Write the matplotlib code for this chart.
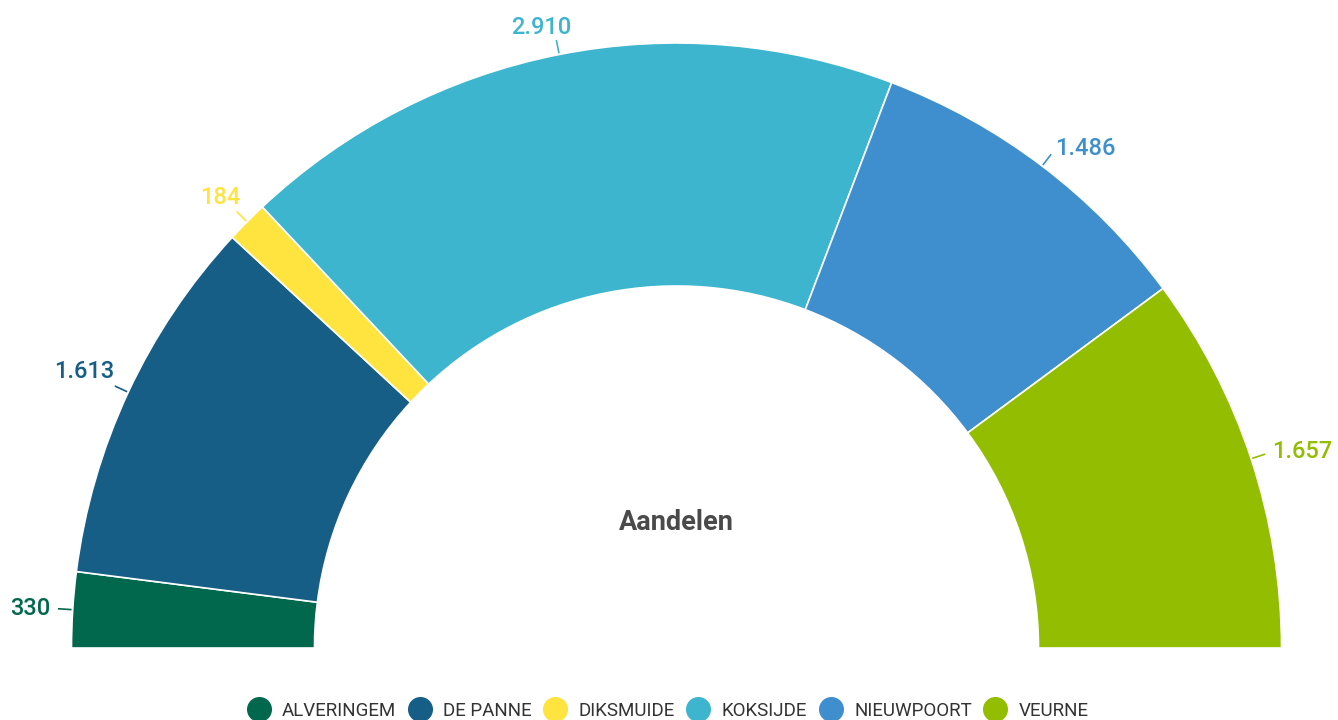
import numpy as np
import matplotlib
matplotlib.use("Agg")
import matplotlib.pyplot as plt
from matplotlib.patches import Wedge
from matplotlib.lines import Line2D

plt.rcParams["font.family"] = ["Roboto", "DejaVu Sans"]

gemeenten = ["ALVERINGEM", "DE PANNE", "DIKSMUIDE", "KOKSIJDE", "NIEUWPOORT", "VEURNE"]
aandelen = [330, 1613, 184, 2910, 1486, 1657]
kleuren = ["#02684D", "#175E86", "#FFE33F", "#3DB5CF", "#3F8FCF", "#92BD00"]
titel = "Aandelen"

W, H = 1338, 720
fig = plt.figure(figsize=(W / 100, H / 100), dpi=100)
ax = fig.add_axes([0, 0, 1, 1])
ax.set_xlim(0, W)
ax.set_ylim(0, H)
ax.axis("off")

cx, cy = 676.5, 72
R, r_in = 605, 362

def fmt(v):
    return f"{v:,}".replace(",", ".")

total = sum(aandelen)
start = 180.0
for naam, v, kl in zip(gemeenten, aandelen, kleuren):
    span = v / total * 180.0
    t1, t2 = start - span, start
    ax.add_patch(Wedge((cx, cy), R, t1, t2, width=R - r_in,
                       facecolor=kl, edgecolor="white", linewidth=1.2))
    mid_deg = (t1 + t2) / 2
    mid = np.deg2rad(mid_deg)
    c, s = np.cos(mid), np.sin(mid)
    ex, ey = cx + (R + 14) * c, cy + (R + 14) * s
    ax.plot([cx + (R + 2) * c, ex], [cy + (R + 2) * s, ey], color=kl, lw=1.2)
    if abs(c) < 0.3:
        tx, ty, ha = ex + c * 80, ey + 13, "center"
    else:
        # labels nudged slightly upward on the upper-left side
        lift = 1.2 if 110 < mid_deg < 170 else 0.0
        a = np.deg2rad(mid_deg - lift)
        tx, ty = cx + (R + 22) * np.cos(a), cy + (R + 22) * np.sin(a)
        ha = "right" if c < 0 else "left"
    ax.text(tx, ty, fmt(v), color=kl, fontsize=17, fontweight="medium",
            ha=ha, va="center")
    start = t1

ax.text(cx, cy + 126, titel, ha="center", va="center", fontsize=19.5,
        fontweight="bold", color="#4A4A4A")

handles = [Line2D([], [], marker="o", linestyle="none", markersize=17,
                  markerfacecolor=k, markeredgecolor=k) for k in kleuren]
leg = fig.legend(handles, gemeenten, loc="center", bbox_to_anchor=(0.5, 9 / H),
                 ncol=6, frameon=False, fontsize=13.5, handletextpad=0.75,
                 columnspacing=0.75, handlelength=1.0)
for t in leg.get_texts():
    t.set_color("#333333")

fig.savefig("out.png", dpi=100)
